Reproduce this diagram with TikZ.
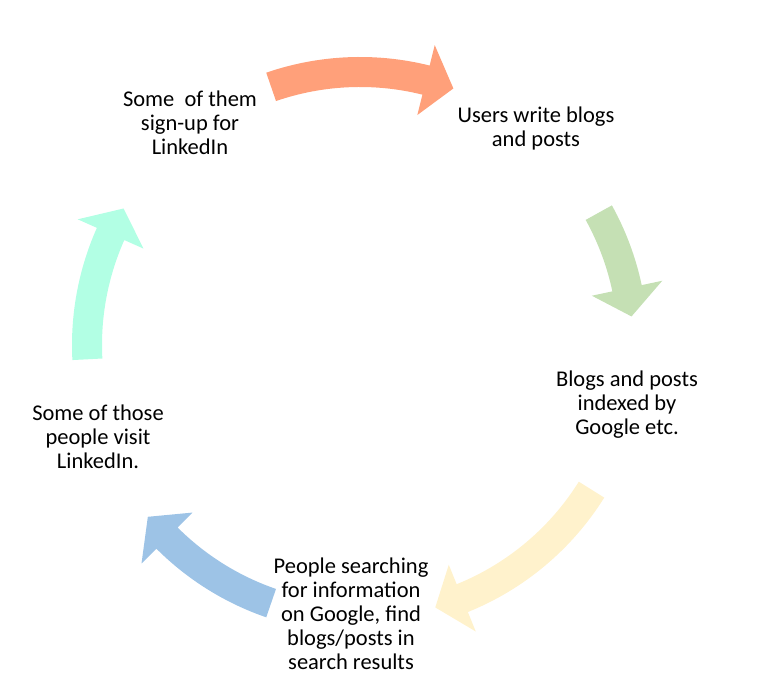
\documentclass[tikz,border=0pt]{standalone}
\usepackage{fontspec}
\setmainfont{Carlito}
\definecolor{cycorange}{RGB}{255,160,122}
\definecolor{cycgreen}{RGB}{197,224,180}
\definecolor{cycyellow}{RGB}{255,242,204}
\definecolor{cycblue}{RGB}{157,195,230}
\definecolor{cycaqua}{RGB}{178,255,228}
\begin{document}
\begin{tikzpicture}[x=1pt,y=1pt,
    steptext/.style={align=center,inner sep=0pt,font=\fontsize{22.5}{24}\selectfont}]

    \useasboundingbox (0,0) rectangle (775,690);

    % curved block arrows round the cycle
    \begin{scope}[shift={(360,345)}]
    \foreach \col/\a/\b in {cycorange/109/70, cycgreen/29/6, cycyellow/-32/-74,
                            cycblue/-109/-141, cycaqua/183/150}
    \fill[color=\col] (\a:288pt) arc[start angle=\a, end angle={\b+6}, radius=288pt]
        -- ({\b+6}:309pt) -- (\b:273pt) -- ({\b+6}:237pt) -- ({\b+6}:258pt)
        arc[start angle={\b+6}, end angle=\a, radius=258pt] -- cycle;
    \end{scope}

    % steps
    \node[steptext] (signup) at (190,567) {Some~ of them\\sign-up for\\LinkedIn};
    \node[steptext] (write) at (536,561) {Users write blogs\\and posts};
    \node[steptext] (index) at (627,285) {Blogs and posts\\indexed by\\Google etc.};
    \node[steptext] (search) at (351,76) {People searching\\for information\\on Google, find\\blogs/posts in\\search results};
    \node[steptext] (visit) at (98,253) {Some of those\\people visit\\LinkedIn.};

\end{tikzpicture}
\end{document}
